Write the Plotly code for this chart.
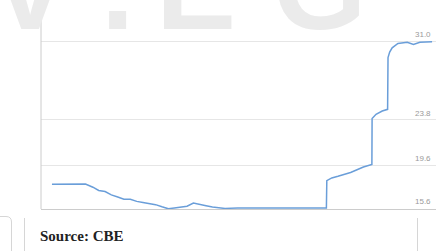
import plotly.graph_objects as go

# ---- data ----
dates = [
    "2018-08-01", "2018-10-01", "2018-12-01", "2019-01-10", "2019-02-15",
    "2019-03-15", "2019-04-15", "2019-05-15", "2019-06-15", "2019-07-15",
    "2019-08-15", "2019-09-15", "2019-10-15", "2019-11-15", "2019-12-15",
    "2020-01-15", "2020-02-15", "2020-03-15", "2020-04-15", "2020-05-15",
    "2020-06-15", "2020-07-15", "2020-08-15", "2020-09-15", "2020-10-15",
    "2020-11-15", "2021-01-15", "2021-04-15", "2021-07-15", "2021-10-15",
    "2022-01-15", "2022-03-20", "2022-03-22", "2022-04-15", "2022-05-15",
    "2022-06-15", "2022-07-15", "2022-08-15", "2022-09-15", "2022-10-26",
    "2022-10-27", "2022-11-15", "2022-12-15", "2023-01-10", "2023-01-11",
    "2023-01-12", "2023-01-20", "2023-02-01", "2023-03-01", "2023-04-15",
    "2023-05-15", "2023-06-15", "2023-08-13",
]
values = [
    17.88, 17.90, 17.90, 17.90, 17.60,
    17.30, 17.20, 16.90, 16.70, 16.50,
    16.50, 16.30, 16.20, 16.10, 16.00,
    15.80, 15.62, 15.70, 15.75, 15.85,
    16.15, 16.00, 15.90, 15.78, 15.70,
    15.65, 15.70, 15.68, 15.66, 15.70,
    15.70, 15.70, 18.20, 18.45, 18.60,
    18.75, 18.95, 19.20, 19.45, 19.70,
    23.90, 24.30, 24.60, 24.75, 27.00,
    29.50, 30.00, 30.40, 30.80, 30.90,
    30.70, 30.90, 30.95,
]
tick_values = [15.65, 19.6, 23.8, 31.0]
tick_labels = ["15.6", "19.6", "23.8", "31.0"]
source_text = "Source: CBE"
watermark_letters = ["V", ".", "E", "G"]

# ---- layout helpers (pixel -> paper) ----
W, H = 436, 251
L, R, T, B = 41, 0, 10, 42
PW, PH = W - L - R, H - T - B


def X(p):
    return (p - L) / PW


def Y(p):
    return (H - B - p) / PH


fig = go.Figure()
fig.add_trace(go.Scatter(
    x=dates, y=values, mode="lines",
    line=dict(color="#6a9ed9", width=1.5, shape="linear"),
    hoverinfo="skip", showlegend=False,
))

fig.update_layout(
    width=W, height=H,
    margin=dict(l=L, r=R, t=T, b=B, pad=0, autoexpand=False),
    paper_bgcolor="white", plot_bgcolor="white",
    showlegend=False,
    xaxis=dict(
        type="date", range=["2018-06-09", "2023-09-01"], automargin=False,
        showgrid=False, showticklabels=False, ticks="",
        showline=True, linecolor="#cccccc", linewidth=1, zeroline=False,
    ),
    yaxis=dict(
        side="right", range=[15.6, 33.87], automargin=False,
        tickvals=tick_values[1:], showticklabels=False,
        showgrid=True, gridcolor="#e6e6e6", gridwidth=1,
        showline=False, zeroline=False, ticks="",
    ),
)

shapes = [
    # left plot border
    dict(type="line", xref="paper", yref="paper", x0=0, x1=0, y0=0, y1=1,
         line=dict(color="#cccccc", width=1)),
    # footer panel lines
    dict(type="line", xref="paper", yref="paper", x0=X(24.5), x1=X(24.5),
         y0=Y(218), y1=Y(252), line=dict(color="#d6d6d6", width=1)),
    dict(type="line", xref="paper", yref="paper", x0=X(417.5), x1=X(417.5),
         y0=Y(218), y1=Y(252), line=dict(color="#d6d6d6", width=1)),
    dict(type="path", xref="paper", yref="paper",
         path=(f"M {X(-2)},{Y(216.5)} L {X(6)},{Y(216.5)} "
               f"Q {X(11.5)},{Y(216.5)} {X(11.5)},{Y(222)} L {X(11.5)},{Y(252)}"),
         line=dict(color="#d6d6d6", width=1)),
]
fig.update_layout(shapes=shapes)

annotations = []
# y tick labels, right aligned inside the plot, just above each gridline
for v, t in zip(tick_values, tick_labels):
    annotations.append(dict(
        text=t, xref="paper", yref="y", x=X(433), y=v,
        xanchor="right", yanchor="bottom", showarrow=False, yshift=0,
        font=dict(family="Liberation Sans", size=8, color="#9a9a9a"),
    ))
# watermark letters
for letter, cx in zip(watermark_letters, [30, 117, 196, 319]):
    annotations.append(dict(
        text="<b>" + letter + "</b>", xref="paper", yref="paper", x=X(cx), y=Y(-13),
        xanchor="center", yanchor="middle", showarrow=False,
        font=dict(family="Liberation Sans", size=120, color="#ebebeb"),
    ))
# source
annotations.append(dict(
    text="<b>" + source_text + "</b>", xref="paper", yref="paper",
    x=X(38), y=Y(236), xanchor="left", yanchor="middle", showarrow=False,
    font=dict(family="Liberation Serif", size=15, color="#222222"),
))
fig.update_layout(annotations=annotations)

fig.write_html("out.html", config={"displayModeBar": False},
               post_script="document.body.style.margin='0';")
